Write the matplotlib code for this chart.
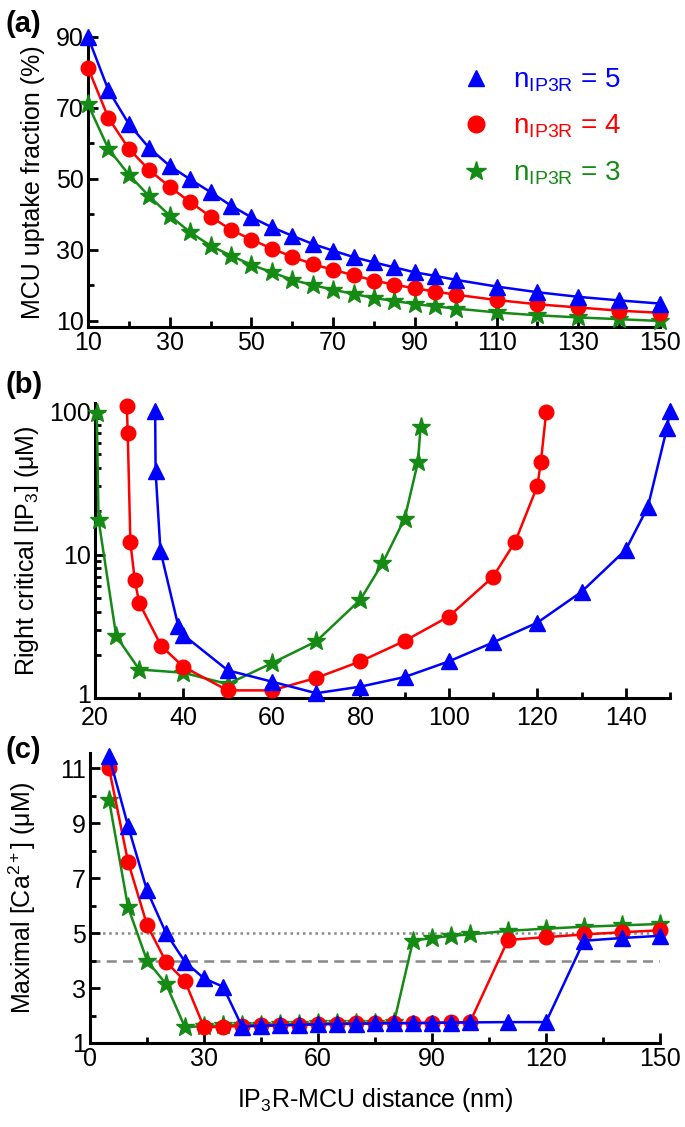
import matplotlib
matplotlib.use('Agg')
import matplotlib.pyplot as plt
import matplotlib.transforms as mtransforms
from matplotlib.ticker import MultipleLocator, FixedLocator, NullFormatter, LogLocator
from matplotlib.lines import Line2D

plt.rcParams['font.family'] = ['Liberation Sans', 'DejaVu Sans']
plt.rcParams['mathtext.fontset'] = 'custom'
plt.rcParams['mathtext.rm'] = 'Liberation Sans'
plt.rcParams['mathtext.it'] = 'Liberation Sans:italic'

# (a) MCU uptake fraction vs distance
dist_a = [10, 15, 20, 25, 30, 35, 40, 45, 50, 55, 60, 65, 70, 75, 80, 85, 90, 95, 100,
          110, 120, 130, 140, 150]
uptake_n5 = [90, 75, 65.5, 58.7, 53.7, 49.9, 46.3, 42.5, 39.2, 36.4, 34.0, 31.7, 29.8, 28.0,
             26.5, 25.1, 23.7, 22.7, 21.6, 19.7, 18.1, 16.8, 15.8, 14.9]
uptake_n4 = [81.3, 67.2, 58.5, 52.5, 47.8, 43.5, 39.4, 35.7, 32.9, 30.4, 28.1, 26.0, 24.4, 22.9,
             21.4, 20.2, 19.2, 18.3, 17.4, 15.9, 14.7, 13.8, 12.9, 12.3]
uptake_n3 = [71.0, 58.5, 51.2, 45.1, 39.7, 35.0, 31.2, 28.4, 25.8, 23.7, 21.6, 20.1, 18.8, 17.6,
             16.5, 15.6, 14.8, 14.1, 13.5, 12.4, 11.6, 11.0, 10.5, 10.0]

# (b) right critical [IP3] vs distance
dist_b_n5 = [33.6, 33.7, 34.8, 38.8, 40, 50, 60, 70, 80, 90, 100, 110, 120, 130, 140, 145, 149.3, 150]
ip3_n5 = [100, 38, 10.6, 3.2, 2.75, 1.56, 1.3, 1.08, 1.2, 1.4, 1.8, 2.44, 3.35, 5.5, 10.8, 21.5, 76, 100]
dist_b_n4 = [27.2, 27.4, 28.0, 29.0, 30, 35, 40, 50, 60, 70, 80, 90, 100, 110, 115, 120, 120.8, 122]
ip3_n4 = [108, 70, 12.2, 6.6, 4.6, 2.3, 1.65, 1.13, 1.13, 1.38, 1.8, 2.5, 3.7, 7.0, 12.3, 30, 44, 98]
dist_b_n3 = [20.4, 20.8, 24.8, 30, 40, 50, 60, 70, 80, 85, 90, 93, 93.6]
ip3_n3 = [97, 17.5, 2.7, 1.58, 1.5, 1.25, 1.75, 2.48, 4.85, 8.7, 17.8, 44, 77]

# (c) maximal [Ca2+] vs distance
dist_c = [5, 10, 15, 20, 25, 30, 35, 40, 45, 50, 55, 60, 65, 70, 75, 80, 85, 90, 95, 100,
          110, 120, 130, 140, 150]
ca_n5 = [11.45, 8.9, 6.55, 5.0, 3.95, 3.35, 3.05, 1.6, 1.63, 1.64, 1.66, 1.68, 1.69, 1.7, 1.71,
         1.72, 1.72, 1.73, 1.74, 1.75, 1.76, 1.76, 4.72, 4.82, 4.9]
ca_n4 = [11.0, 7.6, 5.3, 3.95, 3.25, 1.57, 1.59, 1.62, 1.64, 1.65, 1.67, 1.69, 1.7, 1.71, 1.72,
         1.73, 1.73, 1.74, 1.75, 1.76, 4.75, 4.85, 4.95, 5.03, 5.1]
ca_n3 = [9.85, 5.95, 4.0, 3.15, 1.57, 1.62, 1.64, 1.66, 1.67, 1.68, 1.7, 1.71, 1.72, 1.73, 1.74,
         1.75, 4.72, 4.82, 4.9, 4.95, 5.08, 5.16, 5.23, 5.28, 5.33]
ca_ref_dotted = 5
ca_ref_dashed = 4

legend_labels = [r'n$_{\mathregular{IP3R}}$ = 5', r'n$_{\mathregular{IP3R}}$ = 4',
                 r'n$_{\mathregular{IP3R}}$ = 3']

BLUE = '#0000ff'
RED = '#ff0000'
GREEN = '#158a15'
TICK_FS = 18
LABEL_FS = 18


def style_axes(ax):
    for side in ['top', 'right']:
        ax.spines[side].set_visible(False)
    for side in ['left', 'bottom']:
        ax.spines[side].set_linewidth(2.2)
    ax.tick_params(which='major', direction='in', length=7, width=2, labelsize=TICK_FS, pad=3)
    ax.tick_params(which='minor', direction='in', length=4, width=2)


def draw_three(ax, x5, y5, x4, y4, x3, y3):
    ax.plot(x3, y3, color=GREEN, marker='*', markersize=14, lw=1.8, zorder=3, clip_on=False)
    ax.plot(x4, y4, color=RED, marker='o', markersize=10.5, lw=1.8, zorder=4, clip_on=False)
    ax.plot(x5, y5, color=BLUE, marker='^', markersize=11, lw=1.8, zorder=5, clip_on=False)


def px_axes(left, right, top, bottom):
    return [left / 685, 1 - bottom / 1127, (right - left) / 685, (bottom - top) / 1127]


fig = plt.figure(figsize=(6.85, 11.27), dpi=100)

# panel (a)
ax_a = fig.add_axes(px_axes(88, 660, 37, 327))
draw_three(ax_a, dist_a, uptake_n5, dist_a, uptake_n4, dist_a, uptake_n3)
ax_a.set_xlim(10, 150)
ax_a.set_ylim(8.3, 90)
ax_a.xaxis.set_major_locator(FixedLocator(list(range(10, 151, 20))))
ax_a.xaxis.set_minor_locator(FixedLocator(list(range(20, 141, 20))))
ax_a.yaxis.set_major_locator(FixedLocator([10, 30, 50, 70, 90]))
ax_a.yaxis.set_minor_locator(FixedLocator([20, 40, 60, 80]))
ax_a.set_ylabel('MCU uptake fraction (%)', fontsize=LABEL_FS, labelpad=8)
style_axes(ax_a)

handles = [Line2D([], [], color=BLUE, marker='^', markersize=12, lw=0),
           Line2D([], [], color=RED, marker='o', markersize=12, lw=0),
           Line2D([], [], color=GREEN, marker='*', markersize=15, lw=0)]
leg = ax_a.legend(handles, legend_labels, loc='upper left', bbox_to_anchor=(0.654, 0.898),
                  frameon=False, fontsize=20, labelcolor=[BLUE, RED, GREEN],
                  borderaxespad=0, borderpad=0, handlelength=1.0,
                  handletextpad=0.83, labelspacing=0.68)

# panel (b)
ax_b = fig.add_axes(px_axes(95, 670, 403, 698))
draw_three(ax_b, dist_b_n5, ip3_n5, dist_b_n4, ip3_n4, dist_b_n3, ip3_n3)
ax_b.set_yscale('log')
ax_b.set_xlim(20, 150)
ax_b.set_ylim(1, 114)
ax_b.xaxis.set_major_locator(MultipleLocator(20))
ax_b.xaxis.set_minor_locator(MultipleLocator(10))
ax_b.yaxis.set_major_locator(FixedLocator([1, 10, 100]))
ax_b.yaxis.set_major_formatter(plt.FuncFormatter(lambda v, p: '%d' % v))
ax_b.yaxis.set_minor_locator(LogLocator(base=10, subs=range(2, 10)))
ax_b.yaxis.set_minor_formatter(NullFormatter())
ax_b.set_ylabel(r'Right critical [IP$_3$] ($\mathregular{\mu}$M)', fontsize=LABEL_FS, labelpad=6)
style_axes(ax_b)
ax_b.tick_params(axis='x', which='major', pad=6)
# lift the "1" label a little so it does not sit on the "20" below it
lift = mtransforms.ScaledTranslation(0, 3 / 72, fig.dpi_scale_trans)
first_label = ax_b.yaxis.get_major_ticks()[0].label1
first_label.set_transform(first_label.get_transform() + lift)

# panel (c)
ax_c = fig.add_axes(px_axes(90, 660, 753, 1043))
ax_c.axhline(ca_ref_dotted, color='#888888', lw=1.8, ls=(0, (1, 1.5)), zorder=1)
ax_c.axhline(ca_ref_dashed, color='#888888', lw=1.8, ls=(0, (4, 2.5)), zorder=1)
draw_three(ax_c, dist_c, ca_n5, dist_c, ca_n4, dist_c, ca_n3)
ax_c.set_xlim(0, 150)
ax_c.set_ylim(1, 11.55)
ax_c.xaxis.set_major_locator(MultipleLocator(30))
ax_c.xaxis.set_minor_locator(MultipleLocator(15))
ax_c.yaxis.set_major_locator(FixedLocator([1, 3, 5, 7, 9, 11]))
ax_c.yaxis.set_minor_locator(FixedLocator([2, 4, 6, 8, 10]))
ax_c.set_ylabel(r'Maximal [Ca$^{\mathregular{2+}}$] ($\mathregular{\mu}$M)', fontsize=LABEL_FS,
                labelpad=16)
ax_c.set_xlabel(r'IP$_3$R-MCU distance (nm)', fontsize=LABEL_FS, labelpad=11)
style_axes(ax_c)

for label, ypix in [('(a)', 24), ('(b)', 385), ('(c)', 750)]:
    fig.text(0.008, 1 - ypix / 1127, label, fontsize=21, fontweight='bold',
             va='center', ha='left')

fig.savefig('out.png', dpi=100)
